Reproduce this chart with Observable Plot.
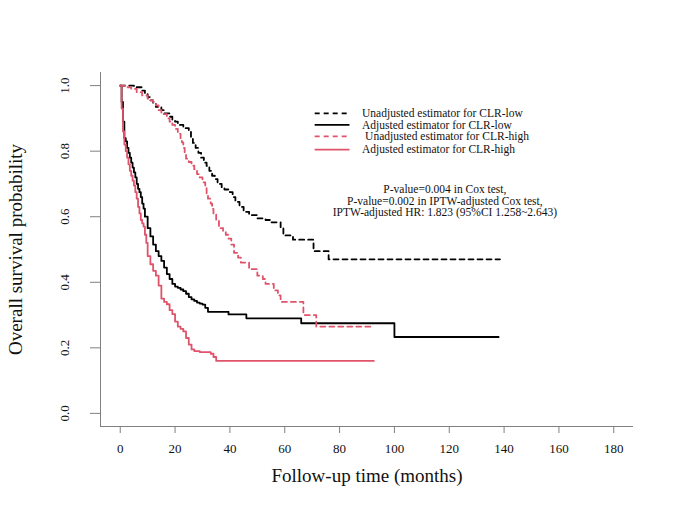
<!DOCTYPE html>
<html>
<head>
<meta charset="utf-8">
<script src="https://cdn.jsdelivr.net/npm/d3@7"></script>
<script src="https://cdn.jsdelivr.net/npm/@observablehq/plot@0.6"></script>
<style>
  html, body { margin: 0; padding: 0; background: #fff; }
  #chart { width: 685px; height: 513px; }
</style>
</head>
<body>
<div id="chart"></div>
<script>
// ---- data ----
const xTicks = [0, 20, 40, 60, 80, 100, 120, 140, 160, 180];
const yTicks = [0.0, 0.2, 0.4, 0.6, 0.8, 1.0];

// Unadjusted estimator for CLR-low (black dashed)
const unadjLowT = [0, 5, 8, 9, 10, 11, 12, 13, 15, 16, 18, 19, 20, 21, 23, 25, 25.8, 26.5, 27.5, 28.5, 29.5, 30.5, 31.5, 32.5, 33.5, 34.5, 35.5, 37, 38, 40, 41, 42, 43.5, 45, 47, 50, 53, 55, 58.5, 59.5, 63, 70.5, 76, 138.5];
const unadjLowS = [1.0, 0.995, 0.985, 0.975, 0.965, 0.955, 0.945, 0.935, 0.925, 0.915, 0.905, 0.895, 0.89, 0.88, 0.87, 0.86, 0.84, 0.825, 0.81, 0.795, 0.78, 0.765, 0.755, 0.74, 0.725, 0.715, 0.70, 0.69, 0.683, 0.675, 0.66, 0.645, 0.63, 0.615, 0.605, 0.595, 0.59, 0.583, 0.565, 0.543, 0.53, 0.495, 0.47, 0.47];

// Adjusted estimator for CLR-low (black solid)
const adjLowT = [0, 0.5, 1, 1.5, 2, 2.5, 3, 3.5, 4, 4.5, 5, 5.5, 6, 6.5, 7, 7.5, 8, 8.5, 9, 10, 11, 12, 13, 14, 15, 16, 17, 18, 19, 20, 21, 22, 23, 24, 25, 26, 27, 28, 29, 30, 31, 32, 39.5, 46, 66, 100, 138];
const adjLowS = [1.0, 0.95, 0.89, 0.84, 0.83, 0.81, 0.795, 0.78, 0.765, 0.75, 0.735, 0.72, 0.70, 0.685, 0.675, 0.66, 0.64, 0.625, 0.60, 0.565, 0.54, 0.515, 0.495, 0.48, 0.465, 0.445, 0.425, 0.41, 0.395, 0.387, 0.383, 0.378, 0.373, 0.365, 0.355, 0.348, 0.343, 0.338, 0.335, 0.332, 0.322, 0.31, 0.302, 0.29, 0.275, 0.233, 0.233];

// Unadjusted estimator for CLR-high (red dashed)
const unadjHighT = [0, 2, 4, 6, 8, 10, 11, 12, 13, 14, 15, 17, 18, 19, 20, 21, 22, 22.5, 23, 23.5, 24, 25, 26, 27, 28, 29, 30, 31, 31.5, 32, 33, 33.5, 34, 35, 36, 37.5, 38.5, 39.5, 40.5, 41.5, 43, 44, 47, 50, 52, 53, 56, 57.5, 58.5, 66.8, 71.5, 91.7];
const unadjHighS = [1.0, 0.995, 0.99, 0.98, 0.97, 0.96, 0.955, 0.95, 0.94, 0.925, 0.913, 0.9, 0.89, 0.88, 0.868, 0.853, 0.84, 0.827, 0.81, 0.795, 0.777, 0.767, 0.756, 0.745, 0.73, 0.72, 0.705, 0.69, 0.67, 0.655, 0.64, 0.624, 0.61, 0.59, 0.565, 0.555, 0.545, 0.533, 0.515, 0.49, 0.475, 0.46, 0.44, 0.42, 0.41, 0.395, 0.375, 0.36, 0.34, 0.30, 0.265, 0.265];

// Adjusted estimator for CLR-high (red solid)
const adjHighT = [0, 0.5, 1, 1.5, 2, 2.5, 3, 3.5, 4, 4.5, 5, 5.5, 6, 6.5, 7, 7.5, 8, 8.5, 9, 9.5, 10, 11, 12, 13, 14, 15, 16, 17, 18, 19, 20, 21, 22, 23, 24, 25, 26, 27, 29, 33, 34, 35, 92.5];
const adjHighS = [1.0, 0.93, 0.86, 0.82, 0.80, 0.78, 0.76, 0.74, 0.725, 0.71, 0.695, 0.675, 0.655, 0.63, 0.61, 0.59, 0.58, 0.57, 0.545, 0.52, 0.48, 0.455, 0.435, 0.42, 0.39, 0.35, 0.34, 0.333, 0.315, 0.303, 0.28, 0.265, 0.258, 0.25, 0.23, 0.21, 0.195, 0.19, 0.187, 0.182, 0.172, 0.16, 0.16];

const legendLabels = [
  "Unadjusted estimator for CLR-low",
  "Adjusted estimator for CLR-low",
  "Unadjusted estimator for CLR-high",
  "Adjusted estimator for CLR-high"
];
const annotationLines = [
  "P-value=0.004 in Cox test,",
  "P-value=0.002 in IPTW-adjusted Cox test,",
  "IPTW-adjusted HR: 1.823 (95%CI 1.258~2.643)"
];
const xTitle = "Follow-up time (months)";
const yTitle = "Overall survival probability";

// ---- build ----
const RED = "#DF536B";
const series = [
  {label: legendLabels[0], t: unadjLowT, s: unadjLowS, color: "#000000", dash: "5,4"},
  {label: legendLabels[1], t: adjLowT, s: adjLowS, color: "#000000", dash: null},
  {label: legendLabels[2], t: unadjHighT, s: unadjHighS, color: RED, dash: "5,4"},
  {label: legendLabels[3], t: adjHighT, s: adjHighS, color: RED, dash: null}
];
const toRows = (ser) => ser.t.map((t, i) => ({t, s: ser.s[i]}));

const xDom = [-7.2, 187.2];
const yDom = [-0.04, 1.04];
const AXIS = "#808080";

// legend / annotation placement (in data units of the plot)
const legY = [0.915, 0.880, 0.845, 0.805];
const legTextX = [88.2, 88.2, 89.3, 88.2];
const annY = [0.683, 0.648, 0.613];

const marks = [
  Plot.ruleY([yDom[0]], {stroke: AXIS, strokeWidth: 1}),
  Plot.ruleX([xDom[0]], {stroke: AXIS, strokeWidth: 1}),
  Plot.axisX({ticks: xTicks, tickSize: 7, tickPadding: 10, fontSize: 13, label: null, stroke: AXIS, fill: "#111", tickFormat: d3.format("d")}),
  Plot.axisY({ticks: yTicks, tickSize: 10, label: null, stroke: AXIS, tickFormat: () => ""}),
  Plot.text(yTicks, {x: xDom[0], y: d => d, text: d => d3.format(".1f")(d), rotate: -90, dx: -36, fontSize: 13, fill: "#111"}),
  Plot.text([yTitle], {frameAnchor: "left", textAnchor: "middle", lineAnchor: "middle", rotate: -90, dx: -85, fontSize: 19, fill: "#111"}),
  Plot.text([xTitle], {frameAnchor: "bottom", textAnchor: "middle", lineAnchor: "middle", dy: 49, fontSize: 19, fill: "#111"})
];

series.forEach((ser, i) => {
  marks.push(Plot.line(toRows(ser), {x: "t", y: "s", curve: "step-after", stroke: ser.color, strokeWidth: 1.8, strokeDasharray: ser.dash ?? undefined}));
  marks.push(Plot.ruleY([legY[i]], {x1: 71.1, x2: 83.8, stroke: ser.color, strokeWidth: 1.8, strokeDasharray: ser.dash ?? undefined}));
  marks.push(Plot.text([ser.label], {x: legTextX[i], y: legY[i], textAnchor: "start", fontSize: 11.5, fill: "#111"}));
});

marks.push(Plot.text(annotationLines, {x: 118.4, y: (d, i) => annY[i], textAnchor: "middle", fontSize: 11.5, fill: "#111"}));

const chart = Plot.plot({
  width: 685,
  height: 513,
  marginLeft: 100,
  marginRight: 52,
  marginTop: 72,
  marginBottom: 87,
  x: {domain: xDom, axis: null},
  y: {domain: yDom, axis: null},
  style: {fontFamily: "'Liberation Serif', 'DejaVu Serif', serif", background: "#fff", overflow: "visible"},
  marks
});
document.getElementById("chart").appendChild(chart);
</script>
</body>
</html>
